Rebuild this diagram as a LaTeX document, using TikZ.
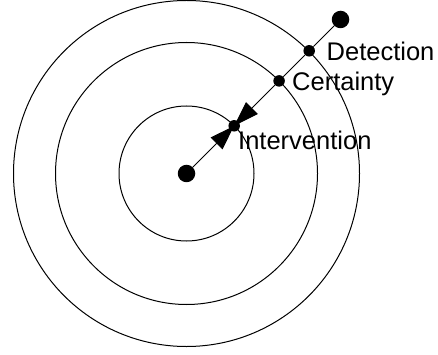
\documentclass[tikz,border=0pt]{standalone}
\usepackage{fontspec}
\setmainfont{Liberation Sans}
\usetikzlibrary{arrows.meta}
\begin{document}
\begin{tikzpicture}[x=1pt,y=-1pt,
  ring/.style={draw=black,line width=1pt},
  bigdot/.style={circle,fill=black,inner sep=0,minimum size=17.5pt},
  smalldot/.style={circle,fill=black,inner sep=0,minimum size=11.5pt},
  conn/.style={draw=black,line width=1pt},
  lbl/.style={anchor=base west,inner sep=0,font=\fontsize{25.5}{30}\selectfont},
  tri/.style={-{Triangle[length=25pt,width=16.5pt]}}]
\useasboundingbox (0,0) rectangle (438,355);
\coordinate (o) at (186.5,173.5);
\draw[ring] (o) circle[radius=67.5];
\draw[ring] (o) circle[radius=131];
\draw[ring] (o) circle[radius=173];
\node[bigdot] (ctr) at (o) {};
\node[bigdot] (top) at (340.5,19.5) {};
\node[smalldot] (det) at (309.2,50.8) {};
\node[smalldot] (cert) at (279.1,80.9) {};
\node[smalldot] (int) at (234.2,125.8) {};
\draw[conn] (top) -- (det);
\draw[conn] (det) -- (cert);
\draw[conn,tri] (cert) -- (int.center);
\draw[conn,tri] (ctr) -- (int.center);
\node[lbl] (ldet) at (326.5,60.7) {Detection};
\node[lbl] (lcert) at (292,91) {Certainty};
\node[lbl] (lint) at (238,150) {Intervention};
\end{tikzpicture}
\end{document}
